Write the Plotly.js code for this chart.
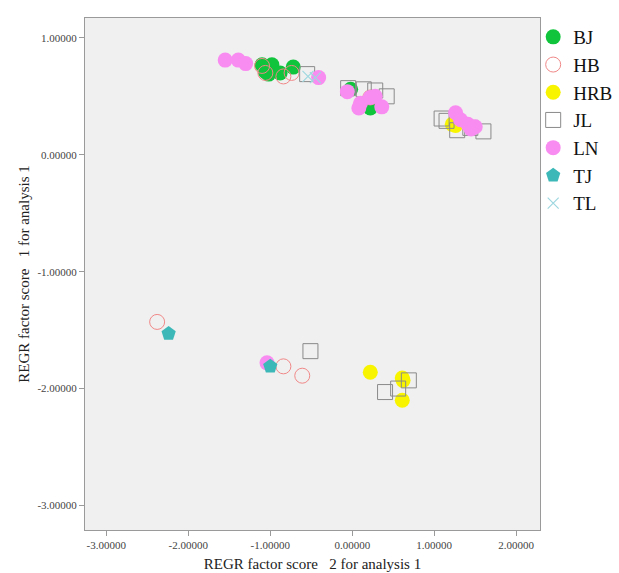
<!DOCTYPE html>
<html><head><meta charset="utf-8">
<script src="https://cdn.plot.ly/plotly-3.0.1.min.js"></script>
<style>body{margin:0;background:#fff}#chart{width:619px;height:573px}</style>
</head><body><div id="chart"></div>
<script>
const seriesNames = ["BJ","HB","HRB","JL","LN","TJ","TL"];
const bjX = [-1.10,-1.06,-0.98,-0.88,-0.72,-1.02,-0.02,0.22];
const bjY = [0.77,0.71,0.77,0.70,0.75,0.69,0.56,0.40];
const hbX = [-1.10,-1.06,-0.84,-0.74,0.22,-2.38,-0.84,-0.61];
const hbY = [0.76,0.70,0.67,0.70,0.49,-1.43,-1.81,-1.89];
const hrbX = [1.22,1.26,0.22,0.61,0.62,0.61];
const hrbY = [0.26,0.25,-1.86,-1.91,-1.93,-2.10];
const jlX = [-0.55,-0.05,0.14,0.28,0.42,1.09,1.15,1.28,1.44,1.60,-0.51,0.40,0.56,0.69];
const jlY = [0.69,0.57,0.56,0.55,0.50,0.31,0.29,0.21,0.23,0.20,-1.68,-2.03,-2.00,-1.93];
const lnX = [-1.55,-1.39,-1.30,-0.41,-0.06,0.10,0.22,0.28,0.36,0.08,1.26,1.32,1.41,1.50,1.45,-1.04];
const lnY = [0.81,0.81,0.78,0.66,0.54,0.44,0.49,0.50,0.41,0.40,0.36,0.30,0.26,0.24,0.22,-1.78];
const tjX = [-2.24,-1.00];
const tjY = [-1.53,-1.81];
const tlX = [-0.54,-0.45];
const tlY = [0.67,0.66];
const xTickVals = [-3,-2,-1,0,1,2];
const xTickText = ["-3.00000","-2.00000","-1.00000","0.00000","1.00000","2.00000"];
const yTickVals = [1,0,-1,-2,-3];
const yTickText = ["1.00000","0.00000","-1.00000","-2.00000","-3.00000"];
const xTitle = "REGR factor score\u00a0\u00a0\u00a02 for analysis 1";
const yTitle = "REGR factor score\u00a0\u00a0\u00a01 for analysis 1";

const S = 15;
const traces = [
 {x:bjX,y:bjY,name:seriesNames[0],marker:{symbol:"circle",size:S,color:"#10c43c"}},
 {x:hbX,y:hbY,name:seriesNames[1],marker:{symbol:"circle-open",size:S,color:"#f08888",line:{width:1}}},
 {x:hrbX,y:hrbY,name:seriesNames[2],marker:{symbol:"circle",size:S,color:"#f8f400"}},
 {x:jlX,y:jlY,name:seriesNames[3],marker:{symbol:"square-open",size:S,color:"#8a8a8a",line:{width:1}}},
 {x:lnX,y:lnY,name:seriesNames[4],marker:{symbol:"circle",size:S,color:"#f98cf0"}},
 {x:tjX,y:tjY,name:seriesNames[5],marker:{symbol:"pentagon",size:S,color:"#3cb8b8"}},
 {x:tlX,y:tlY,name:seriesNames[6],marker:{symbol:"x-thin-open",size:11,color:"#9fd8e0",line:{width:1.2}}}
].map(t=>Object.assign({type:"scatter",mode:"markers"},t));

const axisCommon = {
 showgrid:false, zeroline:false, showline:true, mirror:true, linecolor:"#9a9a9a", linewidth:1,
 ticks:"outside", ticklen:5, tickcolor:"#9a9a9a",
 tickfont:{family:"Liberation Serif", size:11, color:"#444"}
};
const layout = {
 width:619, height:573,
 margin:{l:85,r:79,t:18,b:43,autoexpand:false},
 paper_bgcolor:"#ffffff", plot_bgcolor:"#f0f0f0",
 xaxis:Object.assign({}, axisCommon, {range:[-3.26,2.29], tickvals:xTickVals, ticktext:xTickText,
   title:{text:xTitle, font:{family:"Liberation Serif", size:15, color:"#222"}, standoff:8}}),
 yaxis:Object.assign({}, axisCommon, {range:[-3.21,1.17], tickvals:yTickVals, ticktext:yTickText,
   title:{text:yTitle, font:{family:"Liberation Serif", size:15, color:"#222"}, standoff:4}}),
 legend:{x:0.985, y:1.0, xanchor:"left", yanchor:"top", font:{family:"Liberation Serif", size:19, color:"#111"},
   bgcolor:"rgba(0,0,0,0)", tracegroupgap:0, itemwidth:30},
 showlegend:true
};
Plotly.newPlot("chart", traces, layout, {displayModeBar:false, staticPlot:true});
</script></body></html>
